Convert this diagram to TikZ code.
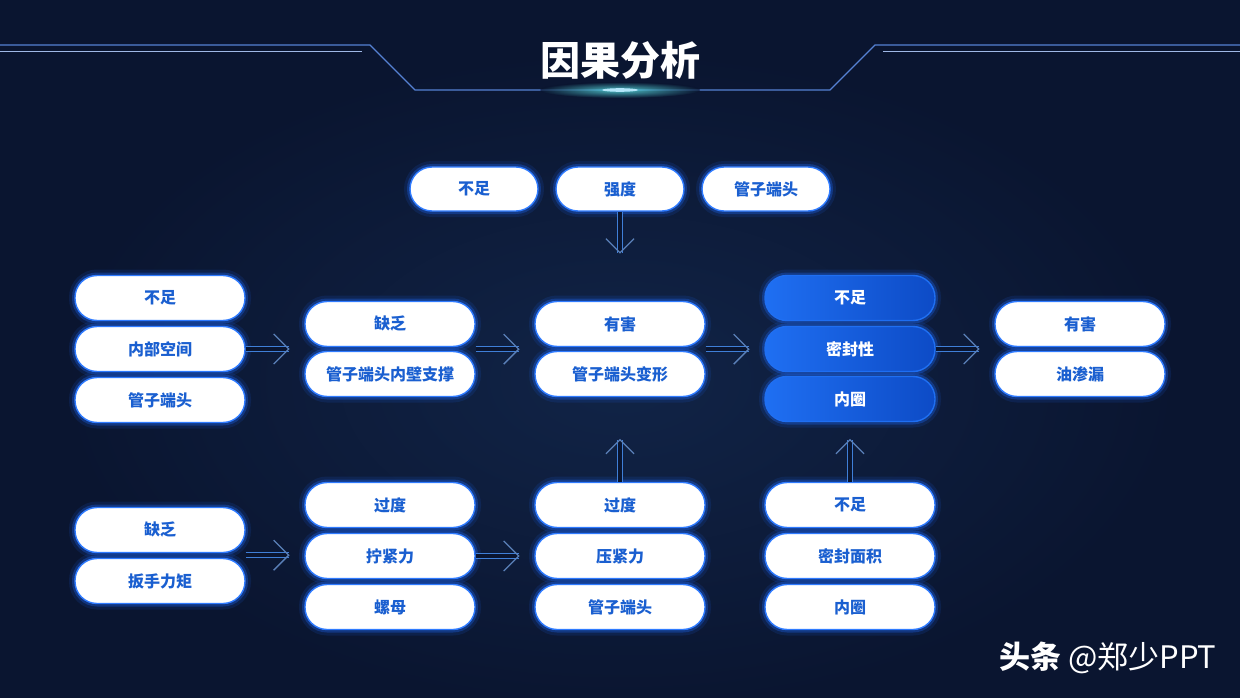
\documentclass[tikz,border=0pt]{standalone}
\usepackage{fontspec}
\setmainfont{Noto Sans CJK SC}
\definecolor{bg}{HTML}{0A1530}
\definecolor{bglight}{HTML}{112447}
\definecolor{pillblue}{HTML}{2F7BFF}
\definecolor{glowblue}{HTML}{1E6BFF}
\definecolor{txtblue}{HTML}{1A5FD0}
\definecolor{fillL}{HTML}{1F6FF2}
\definecolor{fillR}{HTML}{0D4BC6}
\definecolor{arrowblue}{HTML}{3F7FD8}
\definecolor{chevblue}{HTML}{5A80B8}
\definecolor{lineblue}{HTML}{2A62C8}
\tikzset{
  pill/.style={rounded corners=22pt, minimum width=170pt, minimum height=45pt,
    fill=white, draw=pillblue, line width=1.4pt, text=txtblue, inner sep=0pt,
    font=\bfseries\fontsize{16}{16}\selectfont,
    preaction={draw=glowblue, line width=12pt, draw opacity=0.12},
    preaction={draw=glowblue, line width=6pt, draw opacity=0.3}},
  toppill/.style={pill, minimum width=128pt, minimum height=44pt},
  bpill/.style={pill, fill=none, left color=fillL, right color=fillR, draw=fillL, text=white},
  shaft/.style={draw=arrowblue, double=bg, double distance=4pt, line width=0.9pt},
  chev/.style={draw=chevblue, line width=1.3pt},
  titletext/.style={text=white, font=\bfseries\fontsize{40}{40}\selectfont},
  wmtext/.style={text=white, font=\fontsize{31}{31}\selectfont}
}
\begin{document}
\begin{tikzpicture}[x=1pt,y=-1pt]
\useasboundingbox (0,0) rectangle (1240,698);
\fill[bg] (0,0) rectangle (1240,698);
\shade[inner color=bglight, outer color=bg] (620,380) ellipse (560 and 330);
% title decoration
\draw[lineblue!80, line width=1.2pt] (0,45) -- (370,45) -- (415,90) -- (830,90) -- (875,45) -- (1240,45);
\draw[lineblue!45, line width=0.8pt] (0,51) -- (362,51);
\draw[lineblue!45, line width=0.8pt] (883,51) -- (1240,51);
\shade[inner color=cyan!60!white, outer color=bg, opacity=0.7] (620,90) ellipse (80 and 8);
\fill[white!70!cyan] (620,90) ellipse (18 and 1.8);
\node[titletext] (ttl) at (620,60) {因果分析};
% top row
\node[toppill] (s1) at (474,189) {不足};
\node[toppill] (s2) at (620,189) {强度};
\node[toppill] (s3) at (766,189) {管子端头};
% column 1 top
\node[pill] (a1) at (160,298) {不足};
\node[pill] (a2) at (160,349) {内部空间};
\node[pill] (a3) at (160,400) {管子端头};
% column 2 top
\node[pill] (b1) at (390,324) {缺乏};
\node[pill] (b2) at (390,374) {管子端头内壁支撑};
% column 3 top
\node[pill] (c1) at (620,324) {有害};
\node[pill] (c2) at (620,374) {管子端头变形};
% column 4 top
\node[bpill] (d1) at (850,298) {不足};
\node[bpill] (d2) at (850,349) {密封性};
\node[bpill] (d3) at (850,399) {内圈};
% column 5
\node[pill] (e1) at (1080,324) {有害};
\node[pill] (e2) at (1080,374) {油渗漏};
% bottom rows
\node[pill] (f1) at (160,530) {缺乏};
\node[pill] (f2) at (160,581) {扳手力矩};
\node[pill] (g1) at (390,505) {过度};
\node[pill] (g2) at (390,556) {拧紧力};
\node[pill] (g3) at (390,607) {螺母};
\node[pill] (h1) at (620,505) {过度};
\node[pill] (h2) at (620,556) {压紧力};
\node[pill] (h3) at (620,607) {管子端头};
\node[pill] (k1) at (850,505) {不足};
\node[pill] (k2) at (850,556) {密封面积};
\node[pill] (k3) at (850,607) {内圈};
% arrows right
\draw[shaft] (a2.east) -- ++(43,0) coordinate (t1);
\draw[chev] (t1) ++(-15,-15) -- (t1) -- ++(-15,15);
\draw[shaft] (b1.south east) ++(0,2) -- ++(43,0) coordinate (t2);
\draw[chev] (t2) ++(-15,-15) -- (t2) -- ++(-15,15);
\draw[shaft] (c1.south east) ++(0,2) -- ++(43,0) coordinate (t3);
\draw[chev] (t3) ++(-15,-15) -- (t3) -- ++(-15,15);
\draw[shaft] (d2.east) -- ++(43,0) coordinate (t4);
\draw[chev] (t4) ++(-15,-15) -- (t4) -- ++(-15,15);
\draw[shaft] (f1.south east) ++(0,2) -- ++(43,0) coordinate (t5);
\draw[chev] (t5) ++(-15,-15) -- (t5) -- ++(-15,15);
\draw[shaft] (g2.east) -- ++(43,0) coordinate (t6);
\draw[chev] (t6) ++(-15,-15) -- (t6) -- ++(-15,15);
% vertical arrows
\draw[shaft] (s2.south) -- ++(0,41) coordinate (t7);
\draw[chev] (t7) ++(-14,-14) -- (t7) -- ++(14,-14);
\draw[shaft] (h1.north) -- ++(0,-42) coordinate (t8);
\draw[chev] (t8) ++(-14,14) -- (t8) -- ++(14,14);
\draw[shaft] (k1.north) -- ++(0,-42) coordinate (t9);
\draw[chev] (t9) ++(-14,14) -- (t9) -- ++(14,14);
% watermark
\node[wmtext, anchor=east] (wm) at (1220,658) {{\bfseries 头条} @郑少PPT};
\end{tikzpicture}
\end{document}
